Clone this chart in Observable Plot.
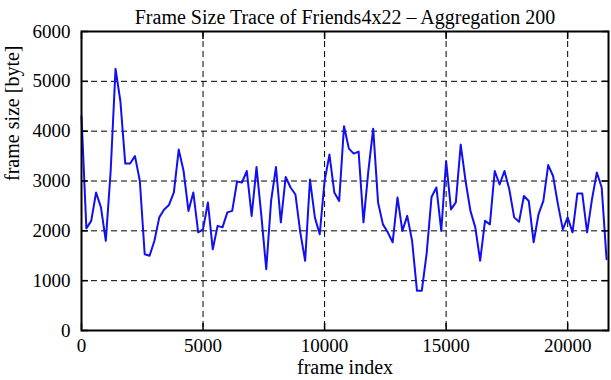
<!DOCTYPE html>
<html><head><meta charset="utf-8">
<script src="https://cdn.jsdelivr.net/npm/d3@7"></script>
<script src="https://cdn.jsdelivr.net/npm/@observablehq/plot@0.6"></script>
<style>
body{margin:0;background:#fff}
#chart svg text{font-family:'Liberation Serif','Times New Roman',serif !important;}
</style>
</head><body><div id="chart"></div>
<script>
const title = "Frame Size Trace of Friends4x22 \u2013 Aggregation 200";
const xLabel = "frame index";
const yLabel = "frame size [byte]";
const xTicks = [0, 5000, 10000, 15000, 20000];
const yTicks = [0, 1000, 2000, 3000, 4000, 5000, 6000];
const frameStep = 200;
const frameSizes = [
  4300, 2050, 2200, 2770, 2470, 1800, 3200, 5250, 4600, 3350,
  3350, 3500, 3000, 1530, 1500, 1800, 2270, 2430, 2520, 2770,
  3630, 3200, 2400, 2770, 1970, 2030, 2570, 1630, 2100, 2070,
  2370, 2400, 2990, 2970, 3200, 2300, 3280, 2300, 1230, 2600,
  3280, 2170, 3080, 2870, 2730, 1970, 1400, 3030, 2270, 1930,
  3000, 3530, 2770, 2600, 4100, 3650, 3550, 3590, 2170, 3200,
  4050, 2570, 2130, 1970, 1770, 2670, 2000, 2300, 1800, 800,
  800, 1550, 2680, 2870, 2000, 3400, 2430, 2570, 3730, 3000,
  2400, 2070, 1400, 2200, 2130, 3200, 2930, 3200, 2830, 2270,
  2180, 2700, 2600, 1770, 2330, 2600, 3320, 3100, 2530, 2030,
  2270, 1970, 2750, 2750, 1970, 2630, 3170, 2870, 1430
];
const data = frameSizes.map((v, i) => ({frame: i * frameStep, size: v}));

const font = "'Liberation Serif', 'Times New Roman', serif";
const fmt = d3.format("d");
const chart = Plot.plot({
  width: 611, height: 380,
  marginLeft: 81, marginRight: 3, marginTop: 31, marginBottom: 50,
  style: {fontFamily: font, fontSize: "19px", background: "#fff", color: "#000"},
  x: {domain: [0, 21680]},
  y: {domain: [0, 6000]},
  marks: [
    Plot.gridX(xTicks.slice(1), {stroke: "#000", strokeOpacity: 1, strokeDasharray: "6,4"}),
    Plot.gridY(yTicks.slice(1, -1), {stroke: "#000", strokeOpacity: 1, strokeDasharray: "6,4"}),
    Plot.line(data, {x: "frame", y: "size", stroke: "#1010f0", strokeWidth: 2}),
    Plot.axisX(xTicks, {anchor: "bottom", tickSize: 0, tickPadding: 8, label: null, tickFormat: fmt, fontSize: 19, fontFamily: font}),
    Plot.axisX(xTicks, {anchor: "bottom", tickSize: -7, tickFormat: () => "", label: null, strokeWidth: 1.5}),
    Plot.axisX(xTicks, {anchor: "top", tickSize: -7, tickFormat: () => "", label: null, strokeWidth: 1.5}),
    Plot.axisY(yTicks, {anchor: "left", tickSize: 0, tickPadding: 11, label: null, tickFormat: fmt, fontSize: 19, fontFamily: font}),
    Plot.axisY(yTicks, {anchor: "left", tickSize: -7, tickFormat: () => "", label: null, strokeWidth: 1.5}),
    Plot.axisY(yTicks, {anchor: "right", tickSize: -7, tickFormat: () => "", label: null, strokeWidth: 1.5}),
    Plot.frame({stroke: "#000", strokeWidth: 2}),
    Plot.text([title], {text: d => d, frameAnchor: "top", dy: -22, fontSize: 20, fontFamily: font}),
    Plot.text([xLabel], {text: d => d, frameAnchor: "bottom", dy: 43, fontSize: 20, fontFamily: font}),
    Plot.text([yLabel], {text: d => d, frameAnchor: "left", dx: -69, rotate: -90, fontSize: 20, fontFamily: font})
  ]
});
document.getElementById("chart").appendChild(chart);
</script>
</body></html>
